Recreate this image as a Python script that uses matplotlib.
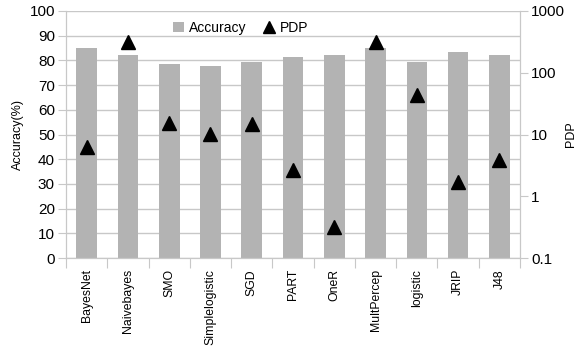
import numpy as np
import matplotlib
matplotlib.use("Agg")
import matplotlib.pyplot as plt
from matplotlib.lines import Line2D
from matplotlib.patches import Patch
from matplotlib.ticker import NullLocator

plt.rcParams["font.family"] = ["Liberation Sans", "DejaVu Sans"]

# Classifier results
classifiers = ["BayesNet", "Naivebayes", "SMO", "Simplelogistic", "SGD", "PART",
               "OneR", "MultPercep", "logistic", "JRIP", "J48"]
accuracy = [85.0, 82.2, 78.5, 77.7, 79.4, 81.4, 82.2, 85.0, 79.4, 83.4, 82.2]
pdp = [6.3, 316, 15.4, 10.2, 15.0, 2.66, 0.32, 316, 43.6, 1.72, 3.87]

grid_col = "#c8c8c8"
bar_col = "#b3b3b3"

fig = plt.figure(figsize=(5.84, 3.49), dpi=100)
ax = fig.add_axes([66 / 584, 1 - 258 / 349, 454 / 584, 247 / 349])
x = np.arange(len(classifiers))

ax.bar(x, accuracy, width=0.5, color=bar_col, zorder=2)
ax.set_xlim(-0.5, len(classifiers) - 0.5)
ax.set_ylim(0, 100)
ax.set_yticks(np.arange(0, 101, 10))
ax.yaxis.grid(True, color=grid_col, linewidth=1, zorder=0)
ax.set_axisbelow(True)
ax.set_ylabel("Accuracy(%)", fontsize=9)

# category boundary ticks on the x axis, names centred under the bars
ax.set_xticks(np.arange(-0.5, len(classifiers), 1.0))
ax.set_xticklabels([])
ax.set_xticks(x, minor=True)
ax.set_xticklabels(classifiers, minor=True, rotation=90, fontsize=8.8)
ax.tick_params(axis="x", which="major", length=7, color=grid_col)
ax.tick_params(axis="x", which="minor", length=0, pad=8)
ax.tick_params(axis="y", length=6, color=grid_col, labelsize=11, pad=2)

ax.spines["top"].set_visible(False)
for side in ["left", "bottom", "right"]:
    ax.spines[side].set_color(grid_col)

ax2 = ax.twinx()
ax2.plot(x, pdp, linestyle="none", marker="^", markersize=10, color="black", zorder=3)
ax2.set_yscale("log")
ax2.set_ylim(0.1, 1000)
ax2.set_yticks([0.1, 1, 10, 100, 1000])
ax2.set_yticklabels(["0.1", "1", "10", "100", "1000"])
ax2.yaxis.set_minor_locator(NullLocator())
ax2.tick_params(axis="y", length=6, color=grid_col, labelsize=11, pad=2)
ax2.set_ylabel("PDP", fontsize=9)
ax2.yaxis.set_label_coords(1.1, 0.5)
ax2.spines["top"].set_visible(False)
for side in ["left", "bottom", "right"]:
    ax2.spines[side].set_color(grid_col)

handles = [Patch(facecolor=bar_col, label="Accuracy"),
           Line2D([], [], linestyle="none", marker="^", color="black", markersize=8, label="PDP")]
ax2.legend(handles=handles, loc="upper center", bbox_to_anchor=(0.385, 1.01), ncol=2,
           frameon=False, fontsize=10, handlelength=0.8, handletextpad=0.4, columnspacing=1.2)

fig.savefig("out.png", dpi=100)
